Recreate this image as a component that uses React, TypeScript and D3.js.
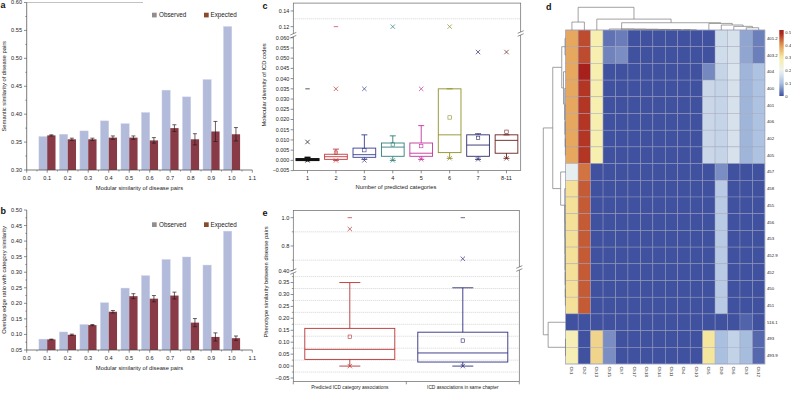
import React from "react";
import * as d3 from "d3";

// ---------- Data ----------
const bins = [0.1, 0.2, 0.3, 0.4, 0.5, 0.6, 0.7, 0.8, 0.9, 1.0];
const semObserved = [0.36, 0.364, 0.37, 0.388, 0.383, 0.403, 0.443, 0.431, 0.462, 0.557];
const semExpected = [0.362, 0.355, 0.355, 0.358, 0.358, 0.353, 0.375, 0.355, 0.369, 0.364];
const semErr = [0.001, 0.002, 0.002, 0.003, 0.003, 0.005, 0.006, 0.01, 0.018, 0.012];
const ovlObserved = [0.085, 0.108, 0.132, 0.202, 0.249, 0.289, 0.341, 0.349, 0.323, 0.432];
const ovlExpected = [0.084, 0.099, 0.13, 0.173, 0.223, 0.215, 0.225, 0.138, 0.092, 0.088];
const ovlErr = [0.001, 0.002, 0.002, 0.004, 0.008, 0.01, 0.011, 0.013, 0.013, 0.007];
const xTicksAB = [0, 0.1, 0.2, 0.3, 0.4, 0.5, 0.6, 0.7, 0.8, 0.9, 1.0, 1.1];
const yTicksA = [0.3, 0.35, 0.4, 0.45, 0.5, 0.55, 0.6];
const yTicksB = [0.05, 0.1, 0.15, 0.2, 0.25, 0.3, 0.35, 0.4, 0.45, 0.5];

const cCats = ["1", "2", "3", "4", "5", "6", "7", "8-11"];
const cQ1 = [0, 0.0005, 0.0015, 0.002, 0.002, 0.0038, 0.002, 0.0035];
const cMedian = [0.0003, 0.0018, 0.0028, 0.0065, 0.0035, 0.0125, 0.0075, 0.0098];
const cQ3 = [0.0008, 0.003, 0.006, 0.0085, 0.0085, 0.035, 0.0125, 0.0125];
const cWhiskLow = [0, 0, 0.0005, 0, 0.0005, 0.001, 0.0005, 0.001];
const cWhiskHigh = [0.0015, 0.0055, 0.0125, 0.012, 0.017, 0.035, 0.013, 0.0125];
const cMean = [0.0005, 0.0038, 0.005, 0.0078, 0.007, 0.021, 0.011, 0.014];
const cP1 = [0, 0, 0, 0, 0.0005, 0.001, 0.0005, 0.001];
const cP99 = [0.009, 0.035, 0.035, 0.12, 0.035, 0.12, 0.053, 0.053];
const cMax: (number | null)[] = [0.035, 0.12, null, null, null, null, null, null];
const cLowTicks = [-0.005, 0, 0.005, 0.01, 0.015, 0.02, 0.025, 0.03, 0.035, 0.04, 0.045, 0.05, 0.055, 0.06];
const cHighTicks = [0.12, 0.14];
const cHighGrid = [0.13];

const eCats = ["Predicted ICD category associations", "ICD associations in same chapter"];
const eQ1 = [0.028, 0.017];
const eMedian = [0.07, 0.055];
const eQ3 = [0.158, 0.142];
const eWhiskLow = [0, 0];
const eWhiskHigh = [0.35, 0.328];
const eMean = [0.123, 0.107];
const eP1 = [0, 0];
const eP99 = [0.92, 0.71];
const eMax = [1.0, 1.0];
const eLowTicks = [-0.05, 0, 0.05, 0.1, 0.15, 0.2, 0.25, 0.3, 0.35, 0.4];
const eLowMinor = [-0.025, 0.025, 0.075, 0.125, 0.175, 0.225, 0.275, 0.325, 0.375];
const eHighTicks = [0.8, 1.0];
const eHighMinor = [0.7, 0.9];

const rowLabels = ["401.2", "403.2", "404", "400", "401", "406", "402", "405", "457", "458", "455", "456", "453", "452.9", "452", "450", "451", "516.1", "493", "493.9"];
const colLabels = ["Ch1", "Ch2", "Ch13", "Ch15", "Ch7", "Ch17", "Ch18", "Ch14", "Ch11", "Ch4", "Ch10", "Ch5", "Ch9", "Ch6", "Ch3", "Ch12"];
const heatValues: number[][] = [
  [0.385, 0.464, 0.287, 0.03, 0.04, 0, 0, 0, 0, 0, 0, 0, 0.155, 0.164, 0.076, 0.041],
  [0.385, 0.464, 0.287, 0.045, 0.055, 0, 0, 0, 0, 0, 0, 0, 0.155, 0.164, 0.076, 0.041],
  [0.385, 0.5, 0.287, 0, 0, 0, 0, 0, 0, 0, 0, 0.05, 0.14, 0.17, 0.09, 0.105],
  [0.385, 0.482, 0.287, 0, 0, 0, 0, 0, 0, 0, 0, 0.146, 0.14, 0.164, 0.09, 0.105],
  [0.385, 0.482, 0.287, 0, 0, 0, 0, 0, 0, 0, 0, 0.146, 0.14, 0.164, 0.09, 0.105],
  [0.385, 0.482, 0.287, 0, 0, 0, 0, 0, 0, 0, 0, 0.146, 0.14, 0.164, 0.09, 0.105],
  [0.385, 0.482, 0.287, 0, 0, 0, 0, 0, 0, 0, 0, 0.146, 0.14, 0.164, 0.09, 0.105],
  [0.385, 0.482, 0.287, 0, 0, 0, 0, 0, 0, 0, 0, 0.146, 0.14, 0.164, 0.09, 0.105],
  [0.19, 0.431, 0, 0, 0, 0, 0, 0, 0, 0, 0, 0, 0.055, 0, 0, 0],
  [0.317, 0.452, 0, 0, 0, 0, 0, 0, 0, 0, 0, 0, 0.12, 0, 0, 0],
  [0.317, 0.452, 0, 0, 0, 0, 0, 0, 0, 0, 0, 0, 0.12, 0, 0, 0],
  [0.317, 0.452, 0, 0, 0, 0, 0, 0, 0, 0, 0, 0, 0.12, 0, 0, 0],
  [0.317, 0.452, 0, 0, 0, 0, 0, 0, 0, 0, 0, 0, 0.12, 0, 0, 0],
  [0.317, 0.452, 0, 0, 0, 0, 0, 0, 0, 0, 0, 0, 0.12, 0, 0, 0],
  [0.317, 0.452, 0, 0, 0, 0, 0, 0, 0, 0, 0, 0, 0.12, 0, 0, 0],
  [0.317, 0.452, 0, 0, 0, 0, 0, 0, 0, 0, 0, 0, 0.12, 0, 0, 0],
  [0.317, 0.452, 0, 0, 0, 0, 0, 0, 0, 0, 0, 0, 0.12, 0, 0, 0],
  [0, 0, 0, 0, 0, 0, 0, 0, 0, 0, 0, 0, 0, 0, 0.016, 0],
  [0.28, 0, 0.331, 0.055, 0, 0, 0, 0, 0, 0, 0, 0.31, 0.1, 0.137, 0.097, 0.02],
  [0.28, 0, 0.331, 0.055, 0, 0, 0, 0, 0, 0, 0, 0.31, 0.1, 0.137, 0.097, 0.02],
];
const colorStops = [0, 0.1, 0.2, 0.3, 0.4, 0.5];
const colorbarTicks = [0, 0.1, 0.2, 0.3, 0.4, 0.5];

type Tree = number | [number, Tree, Tree];
const colTree: Tree = [10, [3.5, 0, 1], [4.8, 2, [3.2,
  [0.45, 3, [0.38, 4, [0.32, 5, [0.26, 6, [0.2, 7, [0.14, 8, [0.08, 9, 10]]]]]]],
  [2.9, 11, [2.2, 12, [1.6, 13, [1.0, 14, 15]]]]]]];
const rowTree: Tree = [10.2,
  [5.9,
    [1.8, [0.3, 0, 1], [1.0, 2, [0.45, 3, [0.35, 4, [0.25, 5, [0.15, 6, 7]]]]]],
    [2.3, 8, [0.45, 9, [0.4, 10, [0.35, 11, [0.3, 12, [0.25, 13, [0.2, 14, [0.15, 15, 16]]]]]]]]],
  [8.0, 17, [0.1, 18, 19]]];

// ---------- Helpers ----------
const FONT = "'Liberation Sans', Arial, Helvetica, sans-serif";
const AX = "#444";
const TXT = "#222";

function BarPanel(p: {
  yTop: number; yBot: number; yDomain: [number, number]; yTicks: number[];
  obs: number[]; exp: number[]; err: number[]; yTitle: string;
  letter: string; letterY: number; legendY: number; xTitleY: number; topLine?: boolean;
}) {
  const x = d3.scaleLinear().domain([0, 1.1]).range([26.7, 252.3]);
  const y = d3.scaleLinear().domain(p.yDomain).range([p.yBot, p.yTop]);
  const bw = 8.3;
  const fmtX = d3.format(".1f");
  const fmtY = d3.format(".2f");
  const minorY = p.yTicks.slice(1).map((t, i) => (t + p.yTicks[i]) / 2);
  const minorX = xTicksAB.slice(1).map((t, i) => (t + xTicksAB[i]) / 2);
  return (
    <g>
      {bins.map((b, i) => (
        <g key={i}>
          <rect x={x(b) - bw} y={y(p.obs[i])} width={bw} height={y(p.yDomain[0]) - y(p.obs[i])} fill="#b3bbdb" stroke="#cdd2ea" strokeWidth={0.4} />
          <rect x={x(b)} y={y(p.exp[i])} width={bw} height={y(p.yDomain[0]) - y(p.exp[i])} fill="#883a46" />
          <line x1={x(b) + bw / 2} x2={x(b) + bw / 2} y1={y(p.exp[i] - p.err[i])} y2={y(p.exp[i] + p.err[i])} stroke="#2a1a1a" strokeWidth={0.7} />
          <line x1={x(b) + bw / 2 - 2} x2={x(b) + bw / 2 + 2} y1={y(p.exp[i] + p.err[i])} y2={y(p.exp[i] + p.err[i])} stroke="#2a1a1a" strokeWidth={0.7} />
          <line x1={x(b) + bw / 2 - 2} x2={x(b) + bw / 2 + 2} y1={y(p.exp[i] - p.err[i])} y2={y(p.exp[i] - p.err[i])} stroke="#2a1a1a" strokeWidth={0.7} />
        </g>
      ))}
      {p.topLine && <line x1={26.7} x2={143} y1={p.yTop} y2={p.yTop} stroke="#999" strokeWidth={0.6} />}
      <line x1={26.7} x2={26.7} y1={p.yTop} y2={p.yBot} stroke={AX} strokeWidth={0.7} />
      <line x1={26.7} x2={252.3} y1={p.yBot} y2={p.yBot} stroke={AX} strokeWidth={0.7} />
      {p.yTicks.map((t) => (
        <g key={t}>
          <line x1={24} x2={26.7} y1={y(t)} y2={y(t)} stroke={AX} strokeWidth={0.6} />
          <text x={22} y={y(t)} dy="0.35em" textAnchor="end" fontSize={5.6} fill={TXT}>{fmtY(t)}</text>
        </g>
      ))}
      {minorY.map((t) => <line key={t} x1={25.2} x2={26.7} y1={y(t)} y2={y(t)} stroke={AX} strokeWidth={0.5} />)}
      {xTicksAB.map((t) => (
        <g key={t}>
          <line x1={x(t)} x2={x(t)} y1={p.yBot} y2={p.yBot + 2.7} stroke={AX} strokeWidth={0.6} />
          <text x={x(t)} y={p.yBot + 10} textAnchor="middle" fontSize={5.6} fill={TXT}>{fmtX(t)}</text>
        </g>
      ))}
      {minorX.map((t) => <line key={t} x1={x(t)} x2={x(t)} y1={p.yBot} y2={p.yBot + 1.5} stroke={AX} strokeWidth={0.5} />)}
      <text x={139.5} y={p.xTitleY} textAnchor="middle" fontSize={5.8} fill={TXT}>Modular similarity of disease pairs</text>
      <text transform={`translate(5.5,${(p.yTop + p.yBot) / 2}) rotate(-90)`} textAnchor="middle" fontSize={5.8} fill={TXT}>{p.yTitle}</text>
      <text x={0.5} y={p.letterY} fontSize={9} fontWeight="bold" fill="#111">{p.letter}</text>
      <rect x={152} y={p.legendY} width={4.7} height={4.7} fill="#8f8f93" />
      <text x={159} y={p.legendY + 4.4} fontSize={6.3} fill={TXT}>Observed</text>
      <rect x={204} y={p.legendY} width={4.7} height={4.7} fill="#8b4a2c" />
      <text x={210.5} y={p.legendY + 4.4} fontSize={6.3} fill={TXT}>Expected</text>
    </g>
  );
}

function BoxMarks(p: {
  cx: number; w: number; capW: number; color: string; yf: (v: number) => number;
  q1: number; med: number; q3: number; wl: number; wh: number; mean: number;
  p1: number; p99: number; max: number | null; sw: number;
}) {
  const { cx, w, yf, color } = p;
  const xs = 2.2;
  const cross = (v: number) => (
    <g>
      <line x1={cx - xs} x2={cx + xs} y1={yf(v) - xs} y2={yf(v) + xs} stroke={color} strokeWidth={0.7} />
      <line x1={cx - xs} x2={cx + xs} y1={yf(v) + xs} y2={yf(v) - xs} stroke={color} strokeWidth={0.7} />
    </g>
  );
  return (
    <g>
      <line x1={cx} x2={cx} y1={yf(p.q3)} y2={yf(p.wh)} stroke={color} strokeWidth={p.sw} />
      <line x1={cx} x2={cx} y1={yf(p.q1)} y2={yf(p.wl)} stroke={color} strokeWidth={p.sw} />
      <line x1={cx - p.capW} x2={cx + p.capW} y1={yf(p.wh)} y2={yf(p.wh)} stroke={color} strokeWidth={p.sw} />
      <line x1={cx - p.capW} x2={cx + p.capW} y1={yf(p.wl)} y2={yf(p.wl)} stroke={color} strokeWidth={p.sw} />
      <rect x={cx - w / 2} y={yf(p.q3)} width={w} height={Math.max(0.5, yf(p.q1) - yf(p.q3))} fill="none" stroke={color} strokeWidth={p.sw} />
      <line x1={cx - w / 2} x2={cx + w / 2} y1={yf(p.med)} y2={yf(p.med)} stroke={color} strokeWidth={p.sw} />
      <rect x={cx - 1.7} y={yf(p.mean) - 1.7} width={3.4} height={3.4} fill="none" stroke={color} strokeWidth={0.6} />
      {cross(p.p99)}
      {cross(p.p1)}
      {p.max !== null && <line x1={cx - 2.2} x2={cx + 2.2} y1={yf(p.max)} y2={yf(p.max)} stroke={color} strokeWidth={0.7} />}
    </g>
  );
}

function BreakMark({ x, y }: { x: number; y: number }) {
  return (
    <g>
      <rect x={x - 3} y={y - 1.6} width={6} height={3.2} fill="#fff" />
      <line x1={x - 3} x2={x + 3} y1={y - 0.2} y2={y - 2.8} stroke={AX} strokeWidth={0.6} />
      <line x1={x - 3} x2={x + 3} y1={y + 2.8} y2={y + 0.2} stroke={AX} strokeWidth={0.6} />
    </g>
  );
}

function PanelC() {
  const left = 293.3, right = 520.7, top = 3.1, bot = 170.6;
  const x = d3.scalePoint<string>().domain(cCats).range([left, right]).padding(0.5);
  const yLow = d3.scaleLinear().domain([-0.005, 0.061]).range([bot, 35.7]);
  const yHigh = d3.scaleLinear().domain([0.11, 0.15]).range([34.5, top]);
  const yf = (v: number) => (v > 0.08 ? yHigh(v) : yLow(v));
  const colors = ["#111", "#c23a3c", "#3a3f8f", "#2f7f7a", "#c2349b", "#8f8f2a", "#2d2d6b", "#6b1f1f"];
  const f3 = d3.format(".3f");
  const f2 = d3.format(".2f");
  const w = 22.7;
  return (
    <g>
      {cHighGrid.map((g) => <line key={g} x1={left} x2={right} y1={yHigh(g)} y2={yHigh(g)} stroke="#aaa" strokeWidth={0.5} strokeDasharray="1,1" />)}
      {cCats.map((c, i) => (
        <BoxMarks key={c} cx={x(c)!} w={w} capW={3} color={colors[i]} yf={yf} sw={i === 0 ? 1.4 : 0.9}
          q1={cQ1[i]} med={cMedian[i]} q3={cQ3[i]} wl={cWhiskLow[i]} wh={cWhiskHigh[i]} mean={cMean[i]}
          p1={cP1[i]} p99={cP99[i]} max={cMax[i]} />
      ))}
      <rect x={left} y={top} width={right - left} height={bot - top} fill="none" stroke="#666" strokeWidth={0.7} />
      <BreakMark x={left} y={35.2} />
      <BreakMark x={right} y={33.5} />
      {cLowTicks.map((t) => (
        <g key={t}>
          <line x1={left - 2.7} x2={left} y1={yLow(t)} y2={yLow(t)} stroke={AX} strokeWidth={0.6} />
          <text x={left - 4} y={yLow(t)} dy="0.35em" textAnchor="end" fontSize={5.4} fill={TXT}>{f3(t)}</text>
        </g>
      ))}
      {cHighTicks.map((t) => (
        <g key={t}>
          <line x1={left - 2.7} x2={left} y1={yHigh(t)} y2={yHigh(t)} stroke={AX} strokeWidth={0.6} />
          <text x={left - 4} y={yHigh(t)} dy="0.35em" textAnchor="end" fontSize={5.4} fill={TXT}>{f2(t)}</text>
        </g>
      ))}
      {cCats.map((c) => (
        <g key={c}>
          <line x1={x(c)!} x2={x(c)!} y1={bot} y2={bot + 2.7} stroke={AX} strokeWidth={0.6} />
          <text x={x(c)!} y={bot + 9} textAnchor="middle" fontSize={5.6} fill={TXT}>{c}</text>
        </g>
      ))}
      <text x={396} y={189} textAnchor="middle" fontSize={5.8} fill={TXT}>Number of predicted categories</text>
      <text transform={`translate(266,85) rotate(-90)`} textAnchor="middle" fontSize={5.8} fill={TXT}>Molecular diversity of ICD codes</text>
      <text x={262.5} y={9} fontSize={9} fontWeight="bold" fill="#111">c</text>
    </g>
  );
}

function PanelE() {
  const left = 293.3, right = 519.3, top = 210.6, bot = 381.6;
  const x = d3.scalePoint<string>().domain(eCats).range([left, right]).padding(0.5);
  const yLow = d3.scaleLinear().domain([-0.065, 0.4]).range([bot, 270.6]);
  const yHigh = d3.scaleLinear().domain([0.655, 1.05]).range([266.5, top]);
  const yf = (v: number) => (v > 0.5 ? yHigh(v) : yLow(v));
  const colors = ["#b83234", "#2e2e80"];
  const f2 = d3.format(".2f");
  const f1 = d3.format(".1f");
  const step = x.step();
  return (
    <g>
      {eLowMinor.map((g) => <line key={g} x1={left} x2={right} y1={yLow(g)} y2={yLow(g)} stroke="#aaa" strokeWidth={0.5} strokeDasharray="1,1" />)}
      {eHighMinor.map((g) => <line key={g} x1={left} x2={right} y1={yHigh(g)} y2={yHigh(g)} stroke="#aaa" strokeWidth={0.5} strokeDasharray="1,1" />)}
      {eCats.map((c, i) => (
        <BoxMarks key={c} cx={x(c)!} w={90} capW={10.5} color={colors[i]} yf={yf} sw={0.9}
          q1={eQ1[i]} med={eMedian[i]} q3={eQ3[i]} wl={eWhiskLow[i]} wh={eWhiskHigh[i]} mean={eMean[i]}
          p1={eP1[i]} p99={eP99[i]} max={eMax[i]} />
      ))}
      <rect x={left} y={top} width={right - left} height={bot - top} fill="none" stroke="#666" strokeWidth={0.7} />
      <BreakMark x={left} y={271.5} />
      <BreakMark x={right} y={268.5} />
      {eLowTicks.map((t) => (
        <g key={t}>
          <line x1={left - 2.7} x2={left} y1={yLow(t)} y2={yLow(t)} stroke={AX} strokeWidth={0.6} />
          <text x={left - 4} y={yLow(t)} dy="0.35em" textAnchor="end" fontSize={5.6} fill={TXT}>{f2(t)}</text>
        </g>
      ))}
      {eLowMinor.map((t) => <line key={t} x1={left - 1.5} x2={left} y1={yLow(t)} y2={yLow(t)} stroke={AX} strokeWidth={0.5} />)}
      {eHighTicks.map((t) => (
        <g key={t}>
          <line x1={left - 2.7} x2={left} y1={yHigh(t)} y2={yHigh(t)} stroke={AX} strokeWidth={0.6} />
          <text x={left - 4} y={yHigh(t)} dy="0.35em" textAnchor="end" fontSize={5.6} fill={TXT}>{f1(t)}</text>
        </g>
      ))}
      {eHighMinor.map((t) => <line key={t} x1={left - 1.5} x2={left} y1={yHigh(t)} y2={yHigh(t)} stroke={AX} strokeWidth={0.5} />)}
      {[0, 1, 2].map((k) => <line key={k} x1={left + k * step} x2={left + k * step} y1={bot} y2={bot + 2.7} stroke={AX} strokeWidth={0.6} />)}
      {eCats.map((c) => <text key={c} x={x(c)!} y={bot + 7.5} textAnchor="middle" fontSize={4.8} fill={TXT}>{c}</text>)}
      <text transform={`translate(267.5,282) rotate(-90)`} textAnchor="middle" fontSize={5.8} fill={TXT}>Phenotype similarity between disease pairs</text>
      <text x={262.5} y={216} fontSize={9} fontWeight="bold" fill="#111">e</text>
    </g>
  );
}

function walk(t: Tree, leaf: (i: number) => number, depth: (h: number) => number, segs: number[][]): { p: number; h: number } {
  if (typeof t === "number") return { p: leaf(t), h: 0 };
  const [h, l, r] = t;
  const a = walk(l, leaf, depth, segs);
  const b = walk(r, leaf, depth, segs);
  segs.push([a.p, depth(h), b.p, depth(h)]);
  segs.push([a.p, depth(h), a.p, depth(a.h)]);
  segs.push([b.p, depth(h), b.p, depth(b.h)]);
  return { p: (a.p + b.p) / 2, h };
}

function PanelD() {
  const left = 565.7, right = 764.9, top = 30, bot = 364;
  const x = d3.scaleBand<number>().domain(d3.range(colLabels.length)).range([left, right]);
  const y = d3.scaleBand<number>().domain(d3.range(rowLabels.length)).range([top, bot]);
  const color = d3.scaleLinear<string>().domain(colorStops)
    .range(["#4051a0", "#aac0e0", "#eef3f2", "#f7eea6", "#e39a52", "#a8201b"]).clamp(true);
  const colH = d3.scaleLinear().domain([0, 10]).range([top, 7.3]);
  const rowH = d3.scaleLinear().domain([0, 10.2]).range([left, 543.3]);
  const colSegs: number[][] = [];
  walk(colTree, (i) => x(i)! + x.bandwidth() / 2, colH, colSegs);
  const rowSegs: number[][] = [];
  walk(rowTree, (i) => y(i)! + y.bandwidth() / 2, rowH, rowSegs);
  const cb = d3.scaleLinear().domain([0, 0.52]).range([96, 30]);
  const gradStops = d3.range(0, 1.0001, 0.05);
  return (
    <g>
      <defs>
        <linearGradient id="cbGrad" x1="0" y1="1" x2="0" y2="0">
          {gradStops.map((s) => <stop key={s} offset={s} stopColor={color(s * 0.52)} />)}
        </linearGradient>
      </defs>
      {heatValues.map((row, r) => row.map((v, c) => (
        <rect key={`${r}-${c}`} x={x(c)!} y={y(r)!} width={x.bandwidth()} height={y.bandwidth()} fill={color(v)} stroke="#9ea0bc" strokeWidth={0.5} strokeOpacity={0.8} />
      )))}
      <rect x={left} y={top} width={right - left} height={bot - top} fill="none" stroke="#9ea0bc" strokeWidth={0.6} />
      {colSegs.map((s, i) => <line key={i} x1={s[0]} y1={s[1]} x2={s[2]} y2={s[3]} stroke="#7a7a7a" strokeWidth={0.7} />)}
      {rowSegs.map((s, i) => <line key={i} x1={s[1]} y1={s[0]} x2={s[3]} y2={s[2]} stroke="#7a7a7a" strokeWidth={0.7} />)}
      {rowLabels.map((l, r) => (
        <text key={l + r} x={right + 2} y={y(r)! + y.bandwidth() / 2} dy="0.35em" fontSize={4.3} fill={TXT}>{l}</text>
      ))}
      {colLabels.map((l, c) => (
        <text key={l} transform={`translate(${x(c)! + x.bandwidth() / 2},${bot + 2.5}) rotate(90)`} dy="0.35em" fontSize={4.3} fill={TXT}>{l}</text>
      ))}
      <rect x={779.3} y={30} width={4.4} height={66} fill="url(#cbGrad)" />
      {colorbarTicks.map((t) => (
        <text key={t} x={785.3} y={cb(t)} dy="0.35em" fontSize={4.3} fill={TXT}>{t === 0 ? "0" : d3.format(".1f")(t)}</text>
      ))}
      <text x={546} y={10} fontSize={9} fontWeight="bold" fill="#111">d</text>
    </g>
  );
}

export default function App() {
  return (
    <svg width={791} height={400} viewBox="0 0 791 400" style={{ position: "absolute", left: 0, top: 0, background: "#fff" }} fontFamily={FONT}>
      <rect x={0} y={0} width={791} height={400} fill="#fff" />
      <BarPanel yTop={2.5} yBot={170} yDomain={[0.3, 0.6]} yTicks={yTicksA} obs={semObserved} exp={semExpected} err={semErr}
        yTitle="Semantic similarity of disease pairs" letter="a" letterY={7.5} legendY={12.7} xTitleY={190} topLine />
      <BarPanel yTop={210} yBot={350} yDomain={[0.05, 0.5]} yTicks={yTicksB} obs={ovlObserved} exp={ovlExpected} err={ovlErr}
        yTitle="Overlap edge ratio with category similarity" letter="b" letterY={214} legendY={222.3} xTitleY={370} />
      <PanelC />
      <PanelE />
      <PanelD />
    </svg>
  );
}
